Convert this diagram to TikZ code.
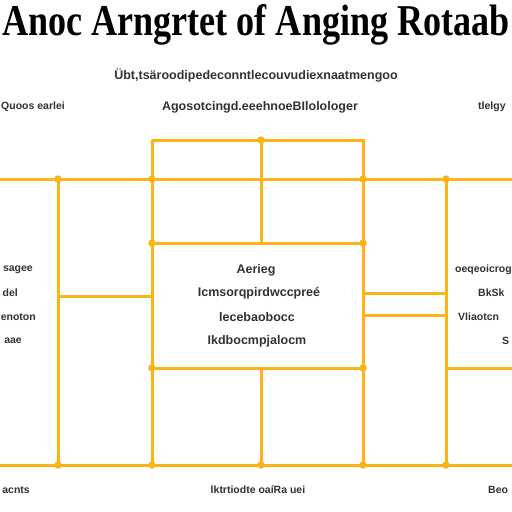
\documentclass[tikz,border=0pt]{standalone}
\usepackage{fontspec}
\setmainfont{Liberation Serif}
\newfontfamily\smallsans{Liberation Sans}
\definecolor{gridor}{RGB}{250,180,22}
\definecolor{txt}{RGB}{50,50,50}
\begin{document}
\begin{tikzpicture}[x=1pt,y=-1pt,
  ln/.style={draw=gridor,line width=3pt},
  jdot/.style={circle,fill=gridor,inner sep=0pt,minimum size=7.5pt},
  lbl/.style={font=\smallsans\bfseries\fontsize{10.5}{12}\selectfont,text=txt,inner sep=0pt},
  blbl/.style={lbl,font=\smallsans\bfseries\fontsize{12.5}{14}\selectfont},
  ttl/.style={font=\bfseries\fontsize{44}{48}\selectfont,text=black,inner sep=0pt}]
\useasboundingbox (0,0) rectangle (512,512);
\fill[white] (0,0) rectangle (512,512);
% coordinates
\coordinate (L0) at (0,179);
\coordinate (R0) at (512,179);
\coordinate (a1) at (58,179);
\coordinate (b1) at (152,179);
\coordinate (c1) at (363,179);
\coordinate (d1) at (446,179);
\coordinate (bt) at (152,140);
\coordinate (mt) at (261,140);
\coordinate (ct) at (363,140);
\coordinate (b2) at (152,243);
\coordinate (m2) at (261,243);
\coordinate (c2) at (363,243);
\coordinate (a3) at (58,296);
\coordinate (b3) at (152,296);
\coordinate (c3a) at (363,293);
\coordinate (d3a) at (446,293);
\coordinate (c3b) at (363,315);
\coordinate (d3b) at (446,315);
\coordinate (b4) at (152,368);
\coordinate (m4) at (261,368);
\coordinate (c4) at (363,368);
\coordinate (d4) at (446,368);
\coordinate (e4) at (512,368);
\coordinate (L5) at (0,465);
\coordinate (R5) at (512,465);
\coordinate (a5) at (58,465);
\coordinate (b5) at (152,465);
\coordinate (m5) at (261,465);
\coordinate (c5) at (363,465);
\coordinate (d5) at (446,465);
% lines
\draw[ln] (L0) -- (R0);
\draw[ln] (L5) -- (R5);
\draw[ln] (bt) -- (ct) -- (c5);
\draw[ln] (bt) -- (b5);
\draw[ln] (mt) -- (m2);
\draw[ln] (m4) -- (m5);
\draw[ln] (b2) -- (c2);
\draw[ln] (b4) -- (c4);
\draw[ln] (a1) -- (a5);
\draw[ln] (d1) -- (d5);
\draw[ln] (a3) -- (b3);
\draw[ln] (c3a) -- (d3a);
\draw[ln] (c3b) -- (d3b);
\draw[ln] (d4) -- (e4);
% junction dots
\foreach \p in {a1,b1,c1,d1,b2,c2,b4,c4,a5,b5,m5,c5,d5,mt}
  \node[jdot] at (\p) {};
% title
\node[ttl,anchor=base] (title) at (256,35) {\scalebox{0.82}[1]{Anoc Arngrtet of Anging Rotaab}};
% header texts
\node[blbl] (h1) at (256,75) {Übt,tsäroodipedeconntlecouvudiexnaatmengoo};
\node[lbl,anchor=west] (h2l) at (1,107) {Quoos earlei};
\node[blbl] (h2c) at (260,107) {Agosotcingd.eeehnoeBIlolologer};
\node[lbl,anchor=west] (h2r) at (478,107) {tlelgy};
% centre box text
\node[blbl] (c1t) at (256,270) {Aerieg};
\node[blbl] (c2t) at (259,293) {Icmsorqpirdwccpreé};
\node[blbl] (c3t) at (257,317) {lecebaobocc};
\node[blbl] (c4t) at (257,341) {Ikdbocmpjalocm};
% left texts
\node[lbl,anchor=east] (l1) at (33,270) {sagee};
\node[lbl,anchor=east] (l2) at (18,293) {del};
\node[lbl,anchor=east] (l3) at (36,317) {enoton};
\node[lbl,anchor=east] (l4) at (22,341) {aae};
% right texts
\node[lbl,anchor=west] (r1) at (455,270) {oeqeoicrog};
\node[lbl,anchor=west] (r2) at (478,293) {BkSk};
\node[lbl,anchor=west] (r3) at (458,317) {Vliaotcn};
\node[lbl,anchor=west] (r4) at (502,341) {S};
% bottom texts
\node[lbl,anchor=east] (b1t) at (30,490) {acnts};
\node[lbl] (b2t) at (258,490) {lktrtiodte oaíRa uei};
\node[lbl,anchor=west] (b3t) at (488,490) {Beo};
\end{tikzpicture}
\end{document}
